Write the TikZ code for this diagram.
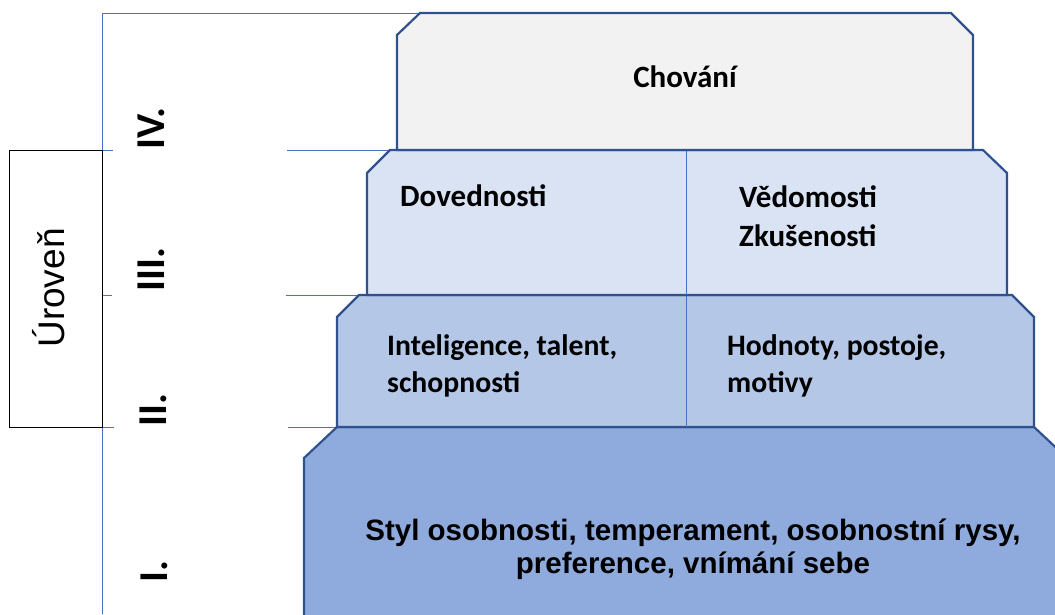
\documentclass[tikz,border=0pt]{standalone}
\usepackage{fontspec}
\setmainfont{Carlito}
\newfontfamily\arialfont{Liberation Sans}
\usepackage{xcolor}
\definecolor{guideblue}{HTML}{4472C4}
\definecolor{edgeblue}{HTML}{2F528F}
\definecolor{fillIV}{HTML}{F2F2F2}
\definecolor{fillIII}{HTML}{DAE3F3}
\definecolor{fillII}{HTML}{B4C7E7}
\definecolor{fillI}{HTML}{8FAADC}

\begin{document}
\begin{tikzpicture}[x=1pt,y=-1pt,
  guide/.style={guideblue,line width=1pt},
  level/.style={draw=edgeblue,line width=2.2pt,line join=miter},
  lvltext/.style={inner sep=0pt,align=left,font=\fontsize{31}{39}\selectfont\bfseries},
  romnum/.style={inner sep=0pt,rotate=90,anchor=base west,font=\fontsize{41}{41}\selectfont\bfseries}]
\useasboundingbox (0,0) rectangle (1055,614);
\clip (0,0) rectangle (1055,614);
% guide lines
\draw[guide] (102,614)--(102,13)--(420,13);
\draw[guide] (102,150)--(113,150) (287,150)--(400,150);
\draw[guide] (102,295)--(112,295) (286,295)--(370,295);
\draw[guide] (102,427)--(114,427) (288,427)--(340,427);
% levels
\draw[level,fill=fillI] (304,640)--(304,458)--(337,427)--(1034,427)--(1067,458)--(1067,640);
\draw[level,fill=fillII] (337,427)--(337,317)--(359,295)--(1012,295)--(1034,317)--(1034,427)--cycle;
\draw[guide,line width=0.8pt] (686,295)--(686,427);
\draw[level,fill=fillIII] (367,295)--(367,173)--(390,150)--(983,150)--(1007,173)--(1007,295)--cycle;
\draw[guide,line width=0.8pt] (686,150)--(686,295);
\draw[level,fill=fillIV] (397,150)--(397,35)--(420,13)--(951,13)--(973,35)--(973,150)--cycle;
% texts (multi-line nodes sit on the baseline of their last line)
\node[lvltext,anchor=base] (chovani) at (685,87) {Chování};
\node[lvltext,anchor=base west] (dovednosti) at (400,206) {Dovednosti};
\node[lvltext,anchor=base west] (vedomosti) at (739,246) {Vědomosti\\Zkušenosti};
\node[lvltext,anchor=base west,font=\fontsize{29.7}{37}\selectfont\bfseries] (inteligence) at (387,392) {Inteligence, talent,\\schopnosti};
\node[lvltext,anchor=base west,font=\fontsize{29.7}{37}\selectfont\bfseries] (hodnoty) at (727,392) {Hodnoty, postoje,\\motivy};
\node[inner sep=0pt,align=center,anchor=base,font=\arialfont\fontsize{29.5}{33}\selectfont\bfseries] (styl) at (693,573) {Styl osobnosti, temperament, osobnostní rysy,\\preference, vnímání sebe};
% level numbers
\node[romnum] (lvlIV) at (164,150) {IV.};
\node[romnum] (lvlIII) at (164,292) {III.};
\node[romnum] (lvlII) at (166,427) {II.};
\node[romnum] (lvlI) at (167,583) {I.};
% axis label
\node[draw=black,line width=1pt,minimum width=93pt,minimum height=277pt,inner sep=0pt,anchor=north west] (urovbox) at (9,150) {};
\node[rotate=90,inner sep=0pt,font=\arialfont\fontsize{37}{37}\selectfont] (uroven) at (49,288) {Úroveň};
\end{tikzpicture}
\end{document}
